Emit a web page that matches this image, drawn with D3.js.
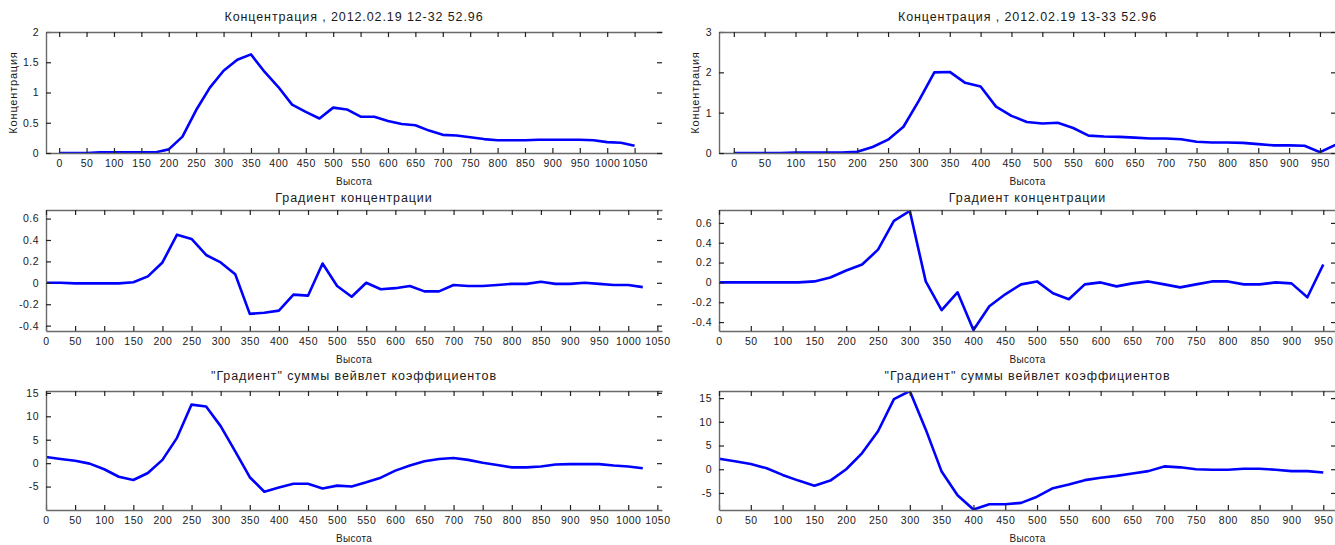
<!DOCTYPE html>
<html>
<head>
<meta charset="utf-8">
<script src="https://cdnjs.cloudflare.com/ajax/libs/d3/7.8.5/d3.min.js"></script>
<style>
  body { margin: 0; background: #fff; }
  svg text { font-family: "Liberation Sans", Arial, sans-serif; fill: #1a1a1a; }
</style>
</head>
<body>
<div id="chart"></div>
<script>
// heights (m)
var heightsA = [0,25,50,75,100,125,150,175,200,225,250,275,300,325,350,375,400,425,450,475,500,525,550,575,600,625,650,675,700,725,750,775,800,825,850,875,900,925,950,975,1000,1025,1050];
var heightsB = [0,25,50,75,100,125,150,175,200,225,250,275,300,325,350,375,400,425,450,475,500,525,550,575,600,625,650,675,700,725,750,775,800,825,850,875,900,925,950,975];

// 12-32
var conc1 = [0,0,0,0.01,0.01,0.01,0.01,0.01,0.06,0.27,0.71,1.08,1.36,1.54,1.63,1.34,1.09,0.80,0.68,0.57,0.75,0.72,0.60,0.60,0.53,0.48,0.46,0.37,0.30,0.29,0.26,0.23,0.21,0.21,0.21,0.22,0.22,0.22,0.22,0.21,0.18,0.17,0.12];
var grad1 = [0,0,-0.005,-0.005,-0.005,-0.005,0.005,0.06,0.19,0.45,0.41,0.26,0.19,0.08,-0.29,-0.28,-0.26,-0.11,-0.12,0.18,-0.03,-0.13,0.0,-0.06,-0.05,-0.03,-0.08,-0.08,-0.02,-0.03,-0.03,-0.02,-0.01,-0.01,0.01,-0.01,-0.01,0.0,-0.01,-0.02,-0.02,-0.04];
var wav1 = [1.3,0.9,0.5,-0.1,-1.3,-2.9,-3.6,-2.1,0.7,5.4,12.5,12.1,7.9,2.5,-3.0,-6.1,-5.2,-4.4,-4.4,-5.4,-4.8,-5.0,-4.1,-3.1,-1.6,-0.5,0.4,0.9,1.1,0.7,0.1,-0.4,-0.9,-0.9,-0.7,-0.3,-0.2,-0.2,-0.2,-0.5,-0.7,-1.1];

// 13-33
var conc2 = [0,0,0,0,0.01,0.01,0.01,0.01,0.03,0.15,0.33,0.65,1.3,2.0,2.01,1.74,1.65,1.15,0.92,0.77,0.73,0.75,0.62,0.43,0.41,0.40,0.38,0.36,0.36,0.34,0.28,0.26,0.26,0.25,0.22,0.19,0.19,0.18,0.02,0.2];
var grad2 = [0,0,0,0,0,0,0.01,0.05,0.12,0.18,0.33,0.62,0.72,0.01,-0.28,-0.1,-0.48,-0.24,-0.12,-0.02,0.01,-0.11,-0.17,-0.02,0.0,-0.04,-0.01,0.01,-0.02,-0.05,-0.02,0.01,0.01,-0.02,-0.02,0.0,-0.01,-0.15,0.18];
var wav2 = [2.2,1.7,1.1,0.2,-1.2,-2.4,-3.5,-2.4,0.0,3.4,8.0,14.8,16.5,8.4,-0.5,-5.5,-8.5,-7.4,-7.4,-7.1,-5.8,-4.0,-3.2,-2.3,-1.8,-1.4,-0.9,-0.4,0.6,0.4,0.0,-0.1,-0.1,0.1,0.1,-0.1,-0.4,-0.4,-0.7];

// tick labels
var xTicksA = [0,50,100,150,200,250,300,350,400,450,500,550,600,650,700,750,800,850,900,950,1000,1050];
var xTicksB = [0,50,100,150,200,250,300,350,400,450,500,550,600,650,700,750,800,850,900,950];
var yTicksConc1 = [0,0.5,1,1.5,2];
var yTicksConc2 = [0,1,2,3];
var yTicksGrad = [-0.4,-0.2,0,0.2,0.4,0.6];
var yTicksWav = [-5,0,5,10,15];

var titleConc1 = "Концентрация , 2012.02.19 12-32 52.96";
var titleConc2 = "Концентрация , 2012.02.19 13-33 52.96";
var titleGrad = "Градиент концентрации";
var titleWav = "\"Градиент\" суммы вейвлет коэффициентов";

var W = 1335, H = 545;
var svg = d3.select("#chart").append("svg")
    .attr("width", W)
    .attr("height", H);

var panels = [
  {x0:46, x1:662, y0:32, y1:153, ty:21, xd:[-24,1100], yd:[0,2], xs:heightsA, ys:conc1, xt:xTicksA, yt:yTicksConc1, title:titleConc1, ylabel:"Концентрация", ylx:13},
  {x0:719, x1:1336, y0:32, y1:153, ty:21, xd:[-24,976], yd:[0,3], xs:heightsB, ys:conc2, xt:xTicksB, yt:yTicksConc2, title:titleConc2, ylabel:"Концентрация", ylx:695},
  {x0:46, x1:662, y0:210, y1:331, ty:202, xd:[0,1058], yd:[-0.45,0.68], xs:heightsA, ys:grad1, xt:xTicksA, yt:yTicksGrad, title:titleGrad},
  {x0:719, x1:1336, y0:210, y1:331, ty:202, xd:[0,970], yd:[-0.49,0.73], xs:heightsB, ys:grad2, xt:xTicksB, yt:yTicksGrad, title:titleGrad},
  {x0:46, x1:662, y0:391, y1:510, ty:380, xd:[0,1058], yd:[-10,15.4], xs:heightsA, ys:wav1, xt:xTicksA, yt:yTicksWav, title:titleWav},
  {x0:719, x1:1336, y0:391, y1:510, ty:380, xd:[0,970], yd:[-8.6,16.5], xs:heightsB, ys:wav2, xt:xTicksB, yt:yTicksWav, title:titleWav}
];

panels.forEach(function(p, i) {
  var x = d3.scaleLinear().domain(p.xd).range([p.x0, p.x1]);
  var y = d3.scaleLinear().domain(p.yd).range([p.y1, p.y0]);
  var pts = p.ys.map(function(v, k) { return [p.xs[k], v]; });

  var g = svg.append("g");

  // x label first, so a following title can sit over it
  g.append("text")
      .attr("x", (p.x0 + p.x1) / 2)
      .attr("y", p.y1 + 32)
      .attr("text-anchor", "middle")
      .style("font-size", "10px")
      .style("letter-spacing", "0.3px")
      .text("Высота");

  g.append("clipPath").attr("id", "clip" + i)
    .append("rect")
      .attr("x", p.x0).attr("y", p.y0)
      .attr("width", p.x1 - p.x0).attr("height", p.y1 - p.y0);

  g.append("path")
      .datum(pts)
      .attr("clip-path", "url(#clip" + i + ")")
      .attr("fill", "none")
      .attr("stroke", "#0000ff")
      .attr("stroke-width", 2.6)
      .attr("stroke-linejoin", "round")
      .attr("d", d3.line().x(function(d) { return x(d[0]); }).y(function(d) { return y(d[1]); }));

  var bottom = g.append("g")
      .attr("transform", "translate(0," + p.y1 + ")")
      .call(d3.axisBottom(x).tickValues(p.xt).tickSize(-5).tickSizeOuter(0).tickPadding(7).tickFormat(function(d) { return d; }));
  var left = g.append("g")
      .attr("transform", "translate(" + p.x0 + ",0)")
      .call(d3.axisLeft(y).tickValues(p.yt).tickSize(-5).tickSizeOuter(0).tickPadding(7).tickFormat(function(d) { return d; }));
  var top = g.append("g")
      .attr("transform", "translate(0," + p.y0 + ")")
      .call(d3.axisTop(x).tickValues(p.xt).tickSize(-5).tickSizeOuter(0).tickFormat(""));
  var right = g.append("g")
      .attr("transform", "translate(" + p.x1 + ",0)")
      .call(d3.axisRight(y).tickValues(p.yt).tickSize(-5).tickSizeOuter(0).tickFormat(""));
  right.select(".domain").remove();

  [bottom, left, top, right].forEach(function(a) {
    a.select(".domain").attr("stroke", "#6a6a6a").attr("stroke-width", 1.4);
    a.selectAll(".tick line").attr("stroke", "#222").attr("stroke-width", 1.2);
    a.selectAll(".tick text")
        .style("font-size", "10.5px")
        .style("letter-spacing", "0.5px")
        .style("font-family", "'Liberation Sans', Arial, sans-serif")
        .attr("fill", "#1a1a1a");
  });

  g.append("text")
      .attr("x", (p.x0 + p.x1) / 2)
      .attr("y", p.ty)
      .attr("text-anchor", "middle")
      .style("font-size", "12.5px")
      .style("letter-spacing", "0.9px")
      .text(p.title);

  if (p.ylabel) {
    g.append("text")
      .attr("transform", "translate(" + p.ylx + "," + ((p.y0 + p.y1) / 2) + ") rotate(-90)")
      .attr("text-anchor", "middle")
      .attr("dy", "0.35em")
      .style("font-size", "11px")
      .style("letter-spacing", "0.8px")
      .text(p.ylabel);
  }
});
</script>
</body>
</html>
